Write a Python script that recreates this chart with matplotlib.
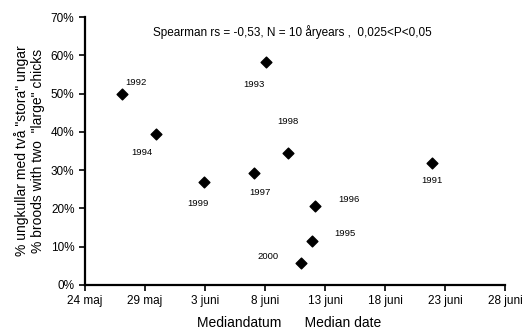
import matplotlib
matplotlib.use('Agg')
import matplotlib.pyplot as plt
from matplotlib.ticker import PercentFormatter

# days after 24 maj
days = [28.9, 3.1, 15.1, 5.9, 18.9, 19.2, 14.1, 16.9, 9.9, 18.0]
shares = [31.9, 49.9, 58.2, 39.4, 11.5, 20.6, 29.3, 34.6, 27.0, 5.7]
years = ['1991', '1992', '1993', '1994', '1995', '1996', '1997', '1998', '1999', '2000']
label_offsets = [(0, -13), (10, 8), (-9, -16), (-10, -13), (24, 5), (24, 5),
                 (4, -14), (0, 22), (-4, -16), (-24, 5)]
tick_days = [0, 5, 10, 15, 20, 25, 30, 35]
tick_labels = ['24 maj', '29 maj', '3 juni', '8 juni', '13 juni', '18 juni', '23 juni', '28 juni']

plt.rcParams['font.family'] = ['Liberation Sans', 'DejaVu Sans']

fig = plt.figure(figsize=(5.24, 3.29), dpi=100)
ax = fig.add_axes([0.162, 0.134, 0.802, 0.814])

ax.scatter(days, shares, marker='D', s=30, color='black', zorder=3)
for x, y, yr, off in zip(days, shares, years, label_offsets):
    ax.annotate(yr, (x, y), xytext=off, textcoords='offset points',
                ha='center', va='center', fontsize=6.8)

ax.text(17.3, 66, 'Spearman rs = -0,53, N = 10 \u00e5ryears ,  0,025<P<0,05',
        ha='center', va='center', fontsize=8.5)

ax.set_xlim(0, 35)
ax.set_ylim(0, 70)
ax.set_xticks(tick_days)
ax.set_xticklabels(tick_labels)
ax.set_yticks(range(0, 71, 10))
ax.yaxis.set_major_formatter(PercentFormatter(decimals=0))
ax.tick_params(direction='out', length=4, width=1.2, labelsize=8.5)
for s in ['top', 'right']:
    ax.spines[s].set_visible(False)
for s in ['left', 'bottom']:
    ax.spines[s].set_linewidth(1.6)

ax.set_xlabel('Mediandatum      Median date', fontsize=10, labelpad=6, x=0.487)
ax.set_ylabel('% ungkullar med tv\u00e5 "stora" ungar\n% broods with two  "large" chicks',
              fontsize=10, labelpad=4)

fig.savefig('out.png', dpi=100)
